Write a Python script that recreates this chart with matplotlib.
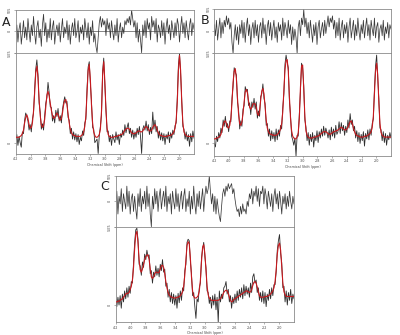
import numpy as np
import matplotlib
matplotlib.use("Agg")
import matplotlib.pyplot as plt

# ---------------- data (chemical shift axis 4.2 -> 1.8 ppm) ----------------
ppm_start, ppm_end = 4.2, 1.8
tick_ppm = [4.2, 4.0, 3.8, 3.6, 3.4, 3.2, 3.0, 2.8, 2.6, 2.4, 2.2, 2.0]

fit_A = [6,6,6,6,7,8,10,
         14,22,28,31,27,20,16,
         17,22,35,55,78,85,72,48,30,20,17,
         19,26,40,53,57,52,44,36,30,27,28,
         31,33,31,27,25,27,33,42,47,48,42,
         32,22,15,11,9,8,8,7,7,7,7,7,8,9,
         12,18,30,55,80,87,70,42,22,12,8,6,
         6,7,9,15,35,75,90,68,35,16,9,7,6,
         6,6,6,7,7,7,8,8,9,9,10,12,14,15,16,16,15,13,11,10,10,
         10,11,12,13,13,12,12,13,15,17,18,17,15,13,13,14,17,19,20,18,14,11,9,8,
         8,7,7,7,7,7,8,8,8,9,10,12,16,25,45,
         80,97,80,45,22,12,
         9,8,7,7,7,7,7,7,7]
data_A = [2,9,-3,7,0,-5,12,
          10,25,33,29,24,14,20,
          12,26,33,60,82,92,76,44,34,15,21,
          14,30,44,50,67,56,40,39,24,30,22,
          36,29,38,24,30,22,37,45,51,44,46,
          28,25,10,16,4,12,3,10,1,9,-2,6,2,13,
          8,22,26,60,84,90,66,46,17,15,0,2,
          4,-12,8,18,31,80,94,64,38,12,13,1,8,
          -3,9,4,0,12,3,9,-2,10,6,14,8,20,11,17,22,10,16,6,14,4,
          12,6,16,9,18,7,-12,15,19,14,24,13,20,9,17,10,34,15,25,12,18,5,13,3,
          11,2,10,-2,9,4,12,0,11,5,14,9,19,22,50,
          86,99,77,48,18,15,
          4,12,2,9,-4,10,1,13,5]
resid_A = [-2,3,-5,1,4,-6,-1,5,-3,2,-4,6,0,-5,3,-2,7,-1,-6,2,
           5,-3,1,-7,3,8,-2,4,-5,1,-3,6,-4,2,5,-6,0,3,-2,4,
           -5,1,6,-3,2,-1,5,-4,3,-6,1,4,-2,6,-3,0,5,-5,2,-1,
           3,-4,6,1,-3,4,-6,2,-2,5,-5,-1,-7,-10,-3,4,7,2,6,3,
           5,-2,6,1,4,-3,5,0,-4,3,-2,6,-5,1,4,-3,2,-1,5,3,
           6,4,7,3,10,6,2,5,-3,4,-5,1,-4,-10,3,-2,5,-3,6,1,
           4,-4,7,2,5,-1,6,-5,3,1,-3,5,-2,4,-6,2,6,-1,3,-4,
           5,1,-3,4,-2,6,3,-5,2,7,-1,4,-3,5,0,-4,3,6,-2,4,1]

fit_B = [5,5,6,6,7,8,10,
         15,20,24,25,22,18,17,
         20,28,45,68,80,83,72,50,32,22,20,
         24,33,46,57,60,56,47,40,38,40,44,
         44,44,40,33,31,36,48,58,61,55,40,
         26,17,13,11,10,10,9,9,9,9,10,11,13,16,
         22,35,58,82,92,93,80,52,28,14,8,6,
         5,5,7,12,28,62,86,87,60,30,14,9,7,
         6,6,6,6,7,7,7,8,8,9,10,11,12,13,13,13,12,11,10,10,11,
         12,13,13,14,14,15,16,17,18,17,16,15,15,16,18,21,24,25,22,17,13,10,9,8,
         8,7,7,7,7,8,8,8,9,10,11,13,18,30,55,
         80,89,76,45,22,12,
         9,8,7,7,7,7,7,7,7]
data_B = [0,-4,8,2,12,6,17,
          12,26,19,30,18,22,13,
          25,24,50,63,84,79,76,46,37,16,25,
          19,38,42,63,58,60,42,45,32,46,40,
          50,38,46,28,36,30,52,55,66,50,44,
          20,22,8,16,3,14,5,12,2,16,4,15,8,20,
          16,40,55,88,98,90,84,47,32,8,4,-2,
          6,-14,9,8,32,58,89,84,64,26,18,3,12,
          -2,10,2,12,-4,9,3,14,1,13,6,16,8,19,9,17,12,6,15,4,18,
          8,16,6,20,10,13,24,11,23,14,20,9,19,12,26,17,33,21,26,14,19,6,14,2,
          12,0,10,3,13,-3,11,5,15,4,16,9,22,27,60,
          86,98,72,50,17,15,
          3,13,1,11,-2,9,4,12,6]
resid_B = [3,-2,5,-4,1,6,-3,4,-1,5,2,7,3,6,1,4,-5,-10,-2,3,
           -4,2,-6,3,-1,5,-3,4,-5,2,6,-2,3,-6,1,4,-3,5,-2,3,
           -5,2,4,-3,6,-1,3,-6,2,5,-2,4,-4,1,5,-3,2,-5,4,0,
           3,-4,6,-2,4,1,-3,5,-1,3,-6,2,-4,1,-3,-10,2,5,-2,6,
           3,10,2,6,-1,4,-3,5,0,-5,3,-2,4,-6,2,5,-3,1,4,-2,
           5,-1,3,7,2,6,4,7,1,5,-3,4,-2,6,-4,2,5,-3,3,-1,
           4,-5,2,6,-3,1,5,-4,3,-2,6,0,-4,3,-1,5,-3,2,6,-2,
           3,-4,5,1,-2,6,-3,2,4,-5,1,3,-2,5,-4,2,-1,4,-3,3,1]

fit_C = [4,4,5,5,6,7,8,
         10,12,14,15,15,16,20,
         24,32,48,72,90,94,80,58,45,42,46,
         52,58,62,64,64,58,46,36,34,36,40,
         42,42,41,42,46,50,51,48,40,30,22,
         16,13,11,10,10,9,9,9,10,10,11,12,14,17,
         24,38,58,76,81,78,60,36,18,11,9,9,
         10,12,18,32,56,74,77,66,44,24,13,9,7,
         6,6,6,6,6,6,6,7,8,10,13,16,18,19,18,15,10,6,4,5,7,
         8,9,10,11,12,13,14,15,16,17,18,18,17,16,17,20,25,29,30,28,23,17,12,10,
         10,10,10,11,11,11,12,13,14,16,18,22,30,45,65,
         76,79,70,48,28,17,
         13,11,11,11,11,11,11,11,11]
data_C = [8,-2,10,0,12,-4,14,
          4,18,8,22,10,24,15,
          30,28,55,80,96,98,84,52,50,38,55,
          48,65,58,70,62,64,40,44,28,42,36,
          50,38,47,36,52,44,58,42,46,24,28,
          10,20,4,16,2,14,0,12,-4,15,3,18,6,22,
          18,44,52,80,84,82,56,40,12,16,-2,-17,
          8,4,22,28,60,72,80,62,48,18,16,2,10,
          -4,12,0,14,-6,10,-22,18,4,14,8,22,24,30,14,20,4,12,-4,10,2,
          14,3,18,6,20,10,22,8,26,12,24,14,22,10,28,16,36,40,28,32,16,22,6,16,
          4,18,2,16,-2,14,6,20,8,22,12,26,26,42,70,
          82,90,66,54,22,24,
          4,18,0,16,6,20,2,14,8]
resid_C = [-2,4,-5,2,-1,5,-4,3,0,-3,6,-2,4,-5,1,3,-4,2,-3,-7,
           3,-2,5,-4,2,-1,4,-3,6,-2,3,-5,-10,2,-3,5,-1,4,-4,2,
           5,-3,1,4,-2,6,-4,2,-1,3,-5,4,0,-3,5,-2,3,-4,1,4,
           -3,2,5,-4,1,-2,4,-5,2,-3,6,-1,-5,3,-2,4,-3,1,5,-4,
           2,6,3,5,10,4,-1,3,-4,2,-5,1,-3,-6,-8,-2,3,5,2,6,
           4,7,5,6,7,3,5,1,-2,-4,-3,-6,-2,-5,-1,-4,-3,-5,0,-2,
           3,1,5,-1,4,2,6,0,5,-2,4,3,6,-1,5,2,-3,4,1,-2,
           3,-4,2,5,-1,3,-3,4,0,-5,2,-1,3,-3,2,-2,4,0,-3,2,-1]

panel_labels = ["A", "B", "C"]

# ---------------- figure ----------------
W, H = 400, 335
fig = plt.figure(figsize=(W / 100, H / 100), dpi=100)
fig.patch.set_facecolor("white")

def frac(x0, y_top, x1, y_bot):
    return [x0 / W, (H - y_bot) / H, (x1 - x0) / W, (y_bot - y_top) / H]

panels = [
    # label, resid, data, fit, x0, x1, ytop, ysep, ybot, main ymin, zero line, label pos
    (panel_labels[0], resid_A, data_A, fit_A, 15.7, 194, 10, 52.7, 154, -12.6, True, (6, 22)),
    (panel_labels[1], resid_B, data_B, fit_B, 214.3, 391, 9.3, 53.3, 156, -14, False, (205, 21)),
    (panel_labels[2], resid_C, data_C, fit_C, 115.7, 294, 176, 226.7, 322.3, -22, False, (105, 186)),
]

spine_col = "#8a8a8a"
dark = "#2e2e2e"
resid_col = "#3a3a3a"
red = "#c8191e"
tfs = 2.4

for lab, res, dat, fit, x0, x1, yt, ys, yb, ymin, zline, lpos in panels:
    axr = fig.add_axes(frac(x0, yt, x1, ys))
    axm = fig.add_axes(frac(x0, ys, x1, yb))
    xr = np.linspace(ppm_start, ppm_end, len(res))
    xd = np.linspace(ppm_start, ppm_end, len(dat))
    xf = np.linspace(ppm_start, ppm_end, len(fit))

    if zline:
        axr.axhline(0, color="#555555", lw=0.5, zorder=1)
    axr.plot(xr, res, color=resid_col, lw=0.55, zorder=2)
    axr.set_xlim(ppm_start, ppm_end)
    axr.set_ylim(-10, 10)
    axr.set_xticks([])
    axr.set_yticks([10, 0, -10])
    axr.set_yticklabels(["5E5", "0", "-5E5"], rotation=90, va="center", fontsize=tfs)

    axm.plot(xd, dat, color=dark, lw=0.6, zorder=2)
    axm.plot(xf, fit, color=red, lw=0.8, zorder=3)
    axm.set_xlim(ppm_start, ppm_end)
    axm.set_ylim(ymin, 100)
    axm.set_yticks([100, 0])
    axm.set_yticklabels(["", "0"], rotation=90, va="center", fontsize=tfs)
    axm.set_xticks(tick_ppm)
    axm.set_xticklabels([f"{t:.1f}" for t in tick_ppm], fontsize=tfs)
    axm.set_xlabel("Chemical Shift (ppm)", fontsize=tfs, color="#444", labelpad=1)

    for ax in (axr, axm):
        for s in ax.spines.values():
            s.set_color(spine_col)
            s.set_linewidth(0.6)
        ax.tick_params(length=1.5, width=0.4, pad=1, colors="#777")
        for t in ax.get_xticklabels() + ax.get_yticklabels():
            t.set_color("#444")
    fig.text(lpos[0] / W, 1 - lpos[1] / H, lab, fontsize=9, color="#222",
             ha="center", va="center")

fig.savefig("out.png", dpi=100, facecolor="white")
